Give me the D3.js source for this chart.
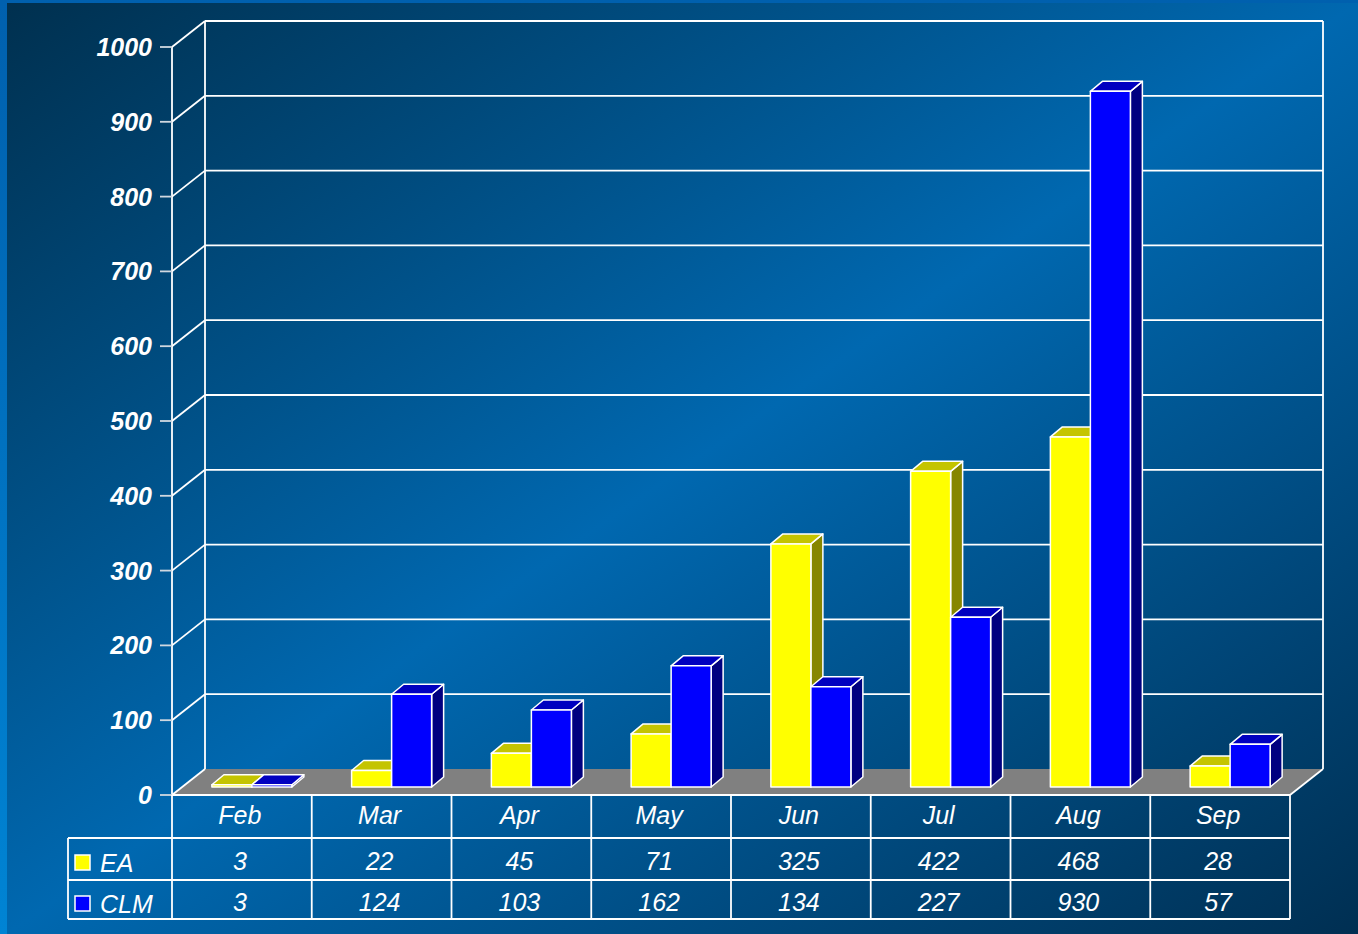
<!DOCTYPE html>
<html>
<head>
<meta charset="utf-8">
<script src="https://cdn.jsdelivr.net/npm/d3@7"></script>
<style>
  html, body { margin: 0; padding: 0; background: #0070c0; }
  svg { display: block; }
</style>
</head>
<body>
<div id="chart"></div>
<script>
// datos
const meses = ["Feb", "Mar", "Apr", "May", "Jun", "Jul", "Aug", "Sep"];
const series = ["EA", "CLM"];
const valoresEA = [3, 22, 45, 71, 325, 422, 468, 28];
const valoresCLM = [3, 124, 103, 162, 134, 227, 930, 57];
const ticksY = [0, 100, 200, 300, 400, 500, 600, 700, 800, 900, 1000];

const W = 1358, H = 934;
const svg = d3.select("#chart").append("svg")
    .attr("width", W)
    .attr("height", H);

// fondo con degradado
const defs = svg.append("defs");
const borde = defs.append("linearGradient").attr("id", "borde")
    .attr("x1", 0).attr("y1", 0).attr("x2", 0).attr("y2", 1);
borde.append("stop").attr("offset", 0).attr("stop-color", "#0060ae");
borde.append("stop").attr("offset", 1).attr("stop-color", "#0084d4");
const fondo = defs.append("linearGradient").attr("id", "fondo")
    .attr("x1", 0).attr("y1", 0).attr("x2", 1).attr("y2", 1);
fondo.append("stop").attr("offset", 0).attr("stop-color", "#00304f");
fondo.append("stop").attr("offset", 0.5).attr("stop-color", "#0068b0");
fondo.append("stop").attr("offset", 1).attr("stop-color", "#002f52");

svg.append("rect").attr("width", W).attr("height", H).attr("fill", "url(#borde)");
svg.append("rect").attr("x", 7).attr("y", 3).attr("width", W - 7).attr("height", H - 3)
    .attr("fill", "url(#fondo)");

// escalas (plano frontal)
const x = d3.scaleBand().domain(meses).range([172, 1290]);
const y = d3.scaleLinear().domain([0, 1000]).range([795, 47]);

// profundidad del gráfico 3D
const DX = 33, DY = -26;      // pared del fondo
const BX = 10, BY = -8;       // plano de las barras
const PX = 12, PY = -10;      // grosor de las barras
const anchoBarra = 40;

const blanco = "#ffffff";

// rejilla en la pared del fondo
const g = svg.append("g");
ticksY.forEach(t => {
    if (t === 0) return;
    g.append("line")
        .attr("x1", x.range()[0] + DX).attr("x2", x.range()[1] + DX)
        .attr("y1", y(t) + DY).attr("y2", y(t) + DY)
        .attr("stroke", blanco).attr("stroke-width", 1.8);
    g.append("line")
        .attr("x1", x.range()[0]).attr("y1", y(t))
        .attr("x2", x.range()[0] + DX).attr("y2", y(t) + DY)
        .attr("stroke", blanco).attr("stroke-width", 1.8);
});
// bordes verticales de la pared
[x.range()[0] + DX, x.range()[1] + DX].forEach(px => {
    g.append("line")
        .attr("x1", px).attr("x2", px)
        .attr("y1", y(1000) + DY).attr("y2", y(0) + DY)
        .attr("stroke", blanco).attr("stroke-width", 1.8);
});

// suelo gris
const x0 = x.range()[0], x1 = x.range()[1];
g.append("path")
    .attr("d", `M${x0},${y(0)} L${x1},${y(0)} L${x1 + DX},${y(0) + DY} L${x0 + DX},${y(0) + DY} Z`)
    .attr("fill", "#808080");
g.append("line")
    .attr("x1", x0).attr("y1", y(0)).attr("x2", x0 + DX).attr("y2", y(0) + DY)
    .attr("stroke", blanco).attr("stroke-width", 1.8);
g.append("line")
    .attr("x1", x1).attr("y1", y(0)).attr("x2", x1 + DX).attr("y2", y(0) + DY)
    .attr("stroke", blanco).attr("stroke-width", 1.8);

// eje Y frontal
g.append("line")
    .attr("x1", x0).attr("x2", x0).attr("y1", y(1000)).attr("y2", y(0))
    .attr("stroke", blanco).attr("stroke-width", 1.8);
ticksY.forEach(t => {
    g.append("line")
        .attr("x1", x0 - 12).attr("x2", x0).attr("y1", y(t)).attr("y2", y(t))
        .attr("stroke", "#d0d8e0").attr("stroke-width", 1.8);
    g.append("text")
        .attr("x", 152).attr("y", y(t)).attr("dy", "0.36em")
        .attr("text-anchor", "end")
        .attr("font-family", "'Liberation Sans', Arial, sans-serif")
        .attr("font-size", 25).attr("font-weight", "bold").attr("font-style", "italic")
        .attr("fill", blanco)
        .text(t);
});

// barras 3D
const colores = {
    EA: { frente: "#ffff00", arriba: "#c4c400", lado: "#868600" },
    CLM: { frente: "#0000ff", arriba: "#0000c0", lado: "#000080" }
};
const datos = [];
meses.forEach((m, i) => {
    datos.push({ mes: m, serie: "EA", valor: valoresEA[i], k: 0 });
    datos.push({ mes: m, serie: "CLM", valor: valoresCLM[i], k: 1 });
});
const gb = svg.append("g");
datos.forEach(d => {
    const centro = x(d.mes) + x.bandwidth() / 2 + BX;
    const xa = centro - anchoBarra + d.k * anchoBarra;
    const xb = xa + anchoBarra;
    const yb = y(0) + BY;
    const yt = y(d.valor) + BY;
    const c = colores[d.serie];
    const grupo = gb.append("g").attr("stroke", blanco).attr("stroke-width", 1.5)
        .attr("stroke-linejoin", "round");
    grupo.append("path")
        .attr("d", `M${xb},${yt} L${xb + PX},${yt + PY} L${xb + PX},${yb + PY} L${xb},${yb} Z`)
        .attr("fill", c.lado);
    grupo.append("path")
        .attr("d", `M${xa},${yt} L${xa + PX},${yt + PY} L${xb + PX},${yt + PY} L${xb},${yt} Z`)
        .attr("fill", c.arriba);
    grupo.append("rect")
        .attr("x", xa).attr("y", yt).attr("width", anchoBarra).attr("height", yb - yt)
        .attr("fill", c.frente);
});

// tabla de datos
const gt = svg.append("g");
const fuente = "'Liberation Sans', Arial, sans-serif";
const filaY = [795, 838, 880, 919];
const xIzq = 68;
const linea = (a, b, c, d) => gt.append("line")
    .attr("x1", a).attr("y1", b).attr("x2", c).attr("y2", d)
    .attr("stroke", blanco).attr("stroke-width", 1.8);

linea(x0, filaY[0], x1, filaY[0]);
[1, 2, 3].forEach(r => linea(xIzq, filaY[r], x1, filaY[r]));
linea(xIzq, filaY[1], xIzq, filaY[3]);
linea(x0, filaY[0], x0, filaY[3]);
meses.forEach(m => linea(x(m) + x.bandwidth(), filaY[0], x(m) + x.bandwidth(), filaY[3]));

const texto = (tx, ty, s, anchor) => gt.append("text")
    .attr("x", tx).attr("y", ty)
    .attr("text-anchor", anchor)
    .attr("font-family", fuente).attr("font-size", 25).attr("font-style", "italic")
    .attr("fill", blanco)
    .text(s);

meses.forEach((m, i) => {
    const cx = x(m) + x.bandwidth() / 2 - 2;
    texto(cx, 824, m, "middle");
    texto(cx, 870, valoresEA[i], "middle");
    texto(cx, 911, valoresCLM[i], "middle");
});

series.forEach((s, r) => {
    const yc = r === 0 ? 863 : 904;
    gt.append("rect")
        .attr("x", 75).attr("y", yc - 8).attr("width", 15).attr("height", 15)
        .attr("fill", colores[s].frente)
        .attr("stroke", blanco).attr("stroke-width", 1.5);
    texto(100, r === 0 ? 872 : 913, s, "start");
});
</script>
</body>
</html>
